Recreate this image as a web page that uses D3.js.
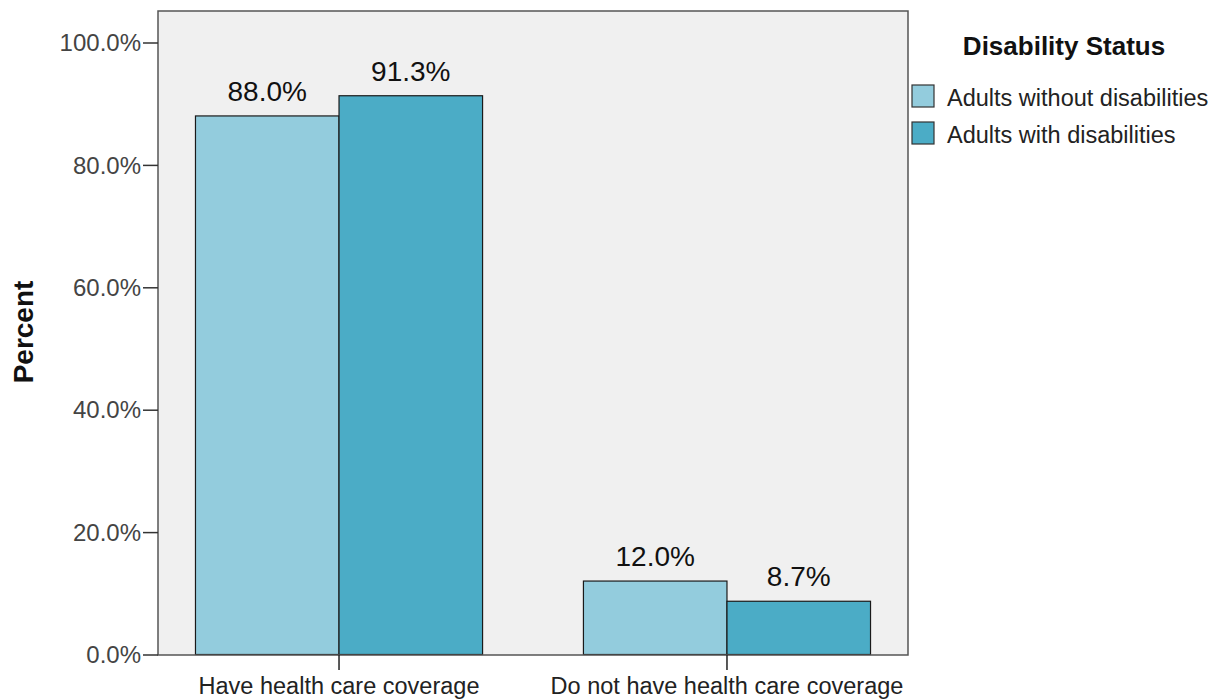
<!DOCTYPE html>
<html>
<head>
<meta charset="utf-8">
<script src="https://cdnjs.cloudflare.com/ajax/libs/d3/7.8.5/d3.min.js"></script>
<style>
  html, body { margin: 0; padding: 0; background: #ffffff; }
  svg { display: block; font-family: "Liberation Sans", Arial, sans-serif; }
</style>
</head>
<body>
<svg id="chart" width="1225" height="700"></svg>
<script>
const categories = ["Have health care coverage", "Do not have health care coverage"];
const seriesNames = ["Adults without disabilities", "Adults with disabilities"];
const withoutDisabilities = [88.0, 12.0];
const withDisabilities = [91.3, 8.7];
const yTickValues = [0, 20, 40, 60, 80, 100];
const seriesColors = ["#93CCDD", "#4BACC6"];

const seriesValues = [withoutDisabilities, withDisabilities];
const data = categories.map((c, i) => ({
  category: c,
  values: seriesNames.map((s, j) => ({ series: s, value: seriesValues[j][i], color: seriesColors[j] }))
}));

const svg = d3.select("#chart");
const plot = { left: 158, right: 908, top: 11, bottom: 655 };

const x = d3.scaleBand().domain(categories).range([plot.left, plot.right])
  .paddingInner(0.26).paddingOuter(0.0966);
const xs = d3.scaleBand().domain(seriesNames).range([0, x.bandwidth()]);
const y = d3.scaleLinear().domain([0, 100]).range([654.5, 42.5]);

// plot background
svg.append("rect")
  .attr("x", plot.left).attr("y", plot.top)
  .attr("width", plot.right - plot.left).attr("height", plot.bottom - plot.top)
  .attr("fill", "#F0F0F0");

// bars
const groups = svg.append("g").selectAll("g").data(data).join("g")
  .attr("transform", d => `translate(${x(d.category)},0)`);
groups.selectAll("rect").data(d => d.values).join("rect")
  .attr("x", d => xs(d.series))
  .attr("y", d => y(d.value))
  .attr("width", xs.bandwidth())
  .attr("height", d => y(0) - y(d.value))
  .attr("fill", d => d.color)
  .attr("stroke", "#1a1a1a")
  .attr("stroke-width", 1.2);

// value labels
groups.selectAll("text").data(d => d.values).join("text")
  .attr("x", d => xs(d.series) + xs.bandwidth() / 2)
  .attr("y", d => y(d.value) - 15)
  .attr("text-anchor", "middle")
  .attr("font-size", "28px")
  .attr("fill", "#111")
  .text(d => d3.format(".1f")(d.value) + "%");

// frame
svg.append("rect")
  .attr("x", plot.left).attr("y", plot.top)
  .attr("width", plot.right - plot.left).attr("height", plot.bottom - plot.top)
  .attr("fill", "none").attr("stroke", "#555").attr("stroke-width", 1.5);

// y axis
const yAxis = d3.axisLeft(y).tickValues(yTickValues)
  .tickFormat(d => d3.format(".1f")(d) + "%").tickSize(15).tickPadding(2);
const yg = svg.append("g").attr("transform", `translate(${plot.left},0)`).call(yAxis);
yg.select(".domain").remove();
yg.selectAll(".tick line").attr("stroke", "#333").attr("stroke-width", 1.5);
yg.selectAll(".tick text").attr("font-size", "24px").attr("fill", "#444")
  .attr("font-family", "'Liberation Sans', Arial, sans-serif").attr("dy", "0.34em");

// x axis
const xAxis = d3.axisBottom(x).tickSize(15).tickPadding(8);
const xg = svg.append("g").attr("transform", `translate(0,${plot.bottom})`).call(xAxis);
xg.select(".domain").remove();
xg.selectAll(".tick line").attr("stroke", "#222").attr("stroke-width", 1.5);
xg.selectAll(".tick text").attr("font-size", "23.5px").attr("fill", "#222")
  .attr("font-family", "'Liberation Sans', Arial, sans-serif")
  .attr("dy", null).attr("y", 39);

// y axis title
svg.append("text")
  .attr("transform", "translate(33,332) rotate(-90)")
  .attr("text-anchor", "middle")
  .attr("font-size", "28px").attr("font-weight", "bold").attr("fill", "#111")
  .text("Percent");

// legend
const legend = svg.append("g");
legend.append("text")
  .attr("x", 1064).attr("y", 55).attr("text-anchor", "middle")
  .attr("font-size", "26px").attr("font-weight", "bold").attr("fill", "#111")
  .text("Disability Status");
const items = legend.selectAll("g.item").data(seriesNames).join("g")
  .attr("class", "item")
  .attr("transform", (d, i) => `translate(912,${85 + i * 37})`);
items.append("rect")
  .attr("width", 22).attr("height", 22)
  .attr("fill", (d, i) => seriesColors[i])
  .attr("stroke", "#333").attr("stroke-width", 1.2);
items.append("text")
  .attr("x", 35).attr("y", 21)
  .attr("font-size", "23.5px").attr("fill", "#222")
  .text(d => d);
</script>
</body>
</html>
